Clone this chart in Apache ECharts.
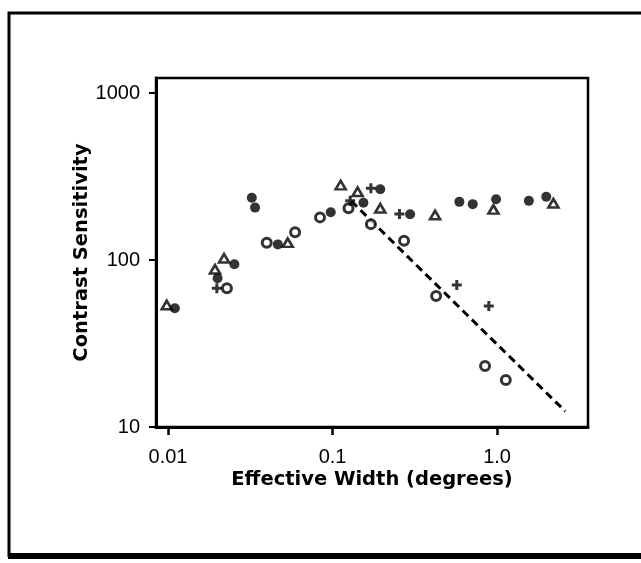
<!DOCTYPE html>
<html>
<head>
<meta charset="utf-8">
<script src="https://cdn.jsdelivr.net/npm/echarts@6/dist/echarts.min.js"></script>
<style>html,body{margin:0;padding:0;background:#fff}#c{width:641px;height:563px}</style>
</head>
<body>
<div id="c"></div>
<script>
// Data (effective width in degrees, contrast sensitivity)
const filledX = [0.0110, 0.0200, 0.0253, 0.0323, 0.0338, 0.0465, 0.0975, 0.154, 0.195, 0.296, 0.590, 0.711, 0.986, 1.56, 1.99];
const filledY = [51.4, 77.7, 94.3, 236, 206, 124, 193, 220, 265, 188, 223, 216, 231, 226, 239];

const openX = [0.0228, 0.0398, 0.0592, 0.0839, 0.125, 0.171, 0.272, 0.426, 0.845, 1.13];
const openY = [67.7, 127, 146.5, 180, 204, 164, 130.5, 60.9, 23.2, 19.1];

const triX = [0.00982, 0.0193, 0.0219, 0.0534, 0.112, 0.142, 0.195, 0.420, 0.950, 2.20];
const triY = [53.8, 88, 102.4, 127, 281, 256.5, 204, 186, 201, 218.6];

const plusX = [0.0198, 0.128, 0.171, 0.255, 0.569, 0.891];
const plusY = [67.7, 226.5, 268.7, 188.5, 70.8, 53.0];

const fitX = [0.13, 2.6];
const fitY = [225, 12.4];

const xTicks = [0.01, 0.1, 1];
const xTickLabels = ['0.01', '0.1', '1.0'];
const yTicks = [10, 100, 1000];
const yTickLabels = ['10', '100', '1000'];

const pairs = (xs, ys) => xs.map((x, i) => [x, ys[i]]);
const FONT = 'Liberation Sans';
const TITLE_FONT = 'DejaVu Sans';
const lookup = (ticks, labels) => v => {
  const i = ticks.findIndex(t => Math.abs(Math.log10(t) - Math.log10(v)) < 1e-6);
  return i >= 0 ? labels[i] : '';
};

const chart = echarts.init(document.getElementById('c'), null, {renderer: 'canvas'});
chart.setOption({
  animation: false,
  backgroundColor: '#fff',
  grid: {left: 156, top: 78, right: 53, bottom: 136, show: true, borderColor: '#000', borderWidth: 2.5, backgroundColor: 'transparent'},
  xAxis: {
    type: 'log', min: 0.00845, max: 3.57,
    name: 'Effective Width (degrees)', nameLocation: 'middle', nameGap: 43, nameMoveOverlap: false,
    nameTextStyle: {fontFamily: TITLE_FONT, fontWeight: 'bold', fontSize: 19.5, color: '#000'},
    axisLine: {show: true, lineStyle: {color: '#000', width: 3}},
    axisTick: {show: true, inside: false, length: 8, lineStyle: {color: '#000', width: 2.5}, customValues: xTicks},
    axisLabel: {color: '#000', fontFamily: FONT, fontSize: 20, margin: 20, customValues: xTicks, formatter: lookup(xTicks, xTickLabels)},
    splitLine: {show: false}, minorTick: {show: false}
  },
  yAxis: {
    type: 'log', min: 10, max: 1230,
    name: 'Contrast Sensitivity', nameLocation: 'middle', nameGap: 64, nameRotate: 90, nameMoveOverlap: false,
    nameTextStyle: {fontFamily: TITLE_FONT, fontWeight: 'bold', fontSize: 19.5, color: '#000'},
    axisLine: {show: true, lineStyle: {color: '#000', width: 3}},
    axisTick: {show: true, length: 7, lineStyle: {color: '#000', width: 2}, customValues: yTicks},
    axisLabel: {color: '#000', fontFamily: FONT, fontSize: 20, margin: 16, customValues: yTicks, formatter: lookup(yTicks, yTickLabels)},
    splitLine: {show: false}, minorTick: {show: false}
  },
  graphic: [
    {type: 'polyline', z: -1, shape: {points: [[9, 557], [9, 13], [641, 13]]}, style: {fill: null, stroke: '#000', lineWidth: 3}},
    {type: 'rect', z: -1, shape: {x: 8, y: 553, width: 633, height: 6}, style: {fill: '#000'}}
  ],
  series: [
    {type: 'line', data: pairs(fitX, fitY), symbol: 'none', lineStyle: {color: '#000', width: 3, type: [8, 5]}, z: 1},
    {type: 'scatter', data: pairs(openX, openY), symbol: 'circle', symbolSize: 9,
      itemStyle: {color: '#fff', borderColor: '#000', borderWidth: 3}, z: 3},
    {type: 'scatter', data: pairs(triX, triY), symbol: 'triangle', symbolSize: [10, 8.5],
      itemStyle: {color: '#fff', borderColor: '#000', borderWidth: 2.6}, z: 3},
    {type: 'scatter', data: pairs(filledX, filledY), symbol: 'circle', symbolSize: 10,
      itemStyle: {color: '#000'}, z: 4},
    {type: 'scatter', data: pairs(plusX, plusY), symbol: 'path://M3.5,0H6.5V3.5H10V6.5H6.5V10H3.5V6.5H0V3.5H3.5Z', symbolSize: 10,
      itemStyle: {color: '#000'}, z: 4}
  ]
});
</script>
</body>
</html>
